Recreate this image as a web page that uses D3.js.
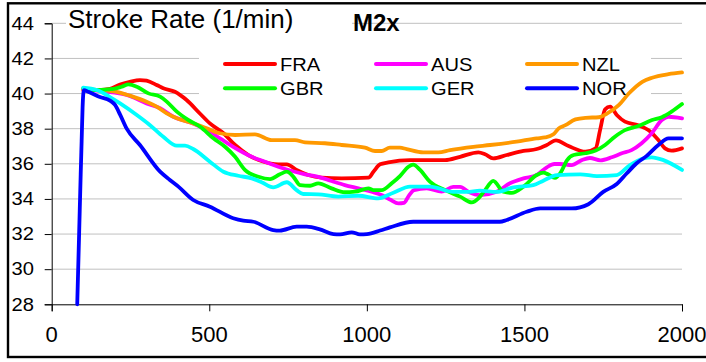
<!DOCTYPE html>
<html>
<head>
<meta charset="utf-8">
<script src="https://cdn.jsdelivr.net/npm/d3@7/dist/d3.min.js"></script>
<style>
  html, body { margin: 0; padding: 0; background: #fff; }
  svg { display: block; }
  text { font-family: "Liberation Sans", Arial, sans-serif; fill: #000; }
</style>
</head>
<body>
<svg id="chart" width="706" height="362"></svg>
<script>
// Stroke rate (1/min) against distance (m), men's double sculls
const xTicks = [0, 500, 1000, 1500, 2000];
const yTicks = [28, 30, 32, 34, 36, 38, 40, 42, 44];

const FRA = [[100,40.2],[150,40.2],[185,40.26],[217,40.52],[248,40.67],[280,40.77],[301,40.73],[333,40.49],[354,40.3],[391,40.1],[428,39.63],[471,38.85],[502,38.3],[545,37.74],[582,37.07],[624,36.5],[666,36.16],[719,35.97],[746,35.97],[777,35.65],[814,35.36],[857,35.21],[920,35.17],[1005,35.21],[1021,35.55],[1042,35.97],[1068,36.08],[1137,36.21],[1248,36.21],[1296,36.4],[1354,36.65],[1375,36.54],[1401,36.31],[1444,36.5],[1497,36.73],[1539,36.84],[1571,37.07],[1600,37.33],[1640,37.01],[1694,36.69],[1726,36.88],[1740,37.92],[1756,39.1],[1772,39.25],[1793,38.78],[1819,38.4],[1861,38.2],[1893,37.92],[1925,37.35],[1946,36.88],[1967,36.75],[2000,36.88]];

const AUS = [[100,40.25],[150,40.15],[200,40.05],[238,39.92],[301,39.44],[344,39.16],[386,38.68],[449,38.3],[492,37.92],[534,37.45],[576,36.97],[635,36.4],[677,36.12],[719,35.83],[762,35.59],[804,35.4],[846,35.26],[888,35.02],[930,34.79],[973,34.6],[1015,34.41],[1050,34.2],[1075,33.95],[1100,33.75],[1118,33.78],[1132,34.15],[1150,34.5],[1190,34.6],[1237,34.41],[1274,34.69],[1296,34.69],[1322,34.41],[1359,34.22],[1412,34.41],[1454,34.89],[1497,35.17],[1539,35.36],[1571,35.8],[1595,35.99],[1613,35.99],[1650,35.93],[1682,36.21],[1708,36.33],[1741,36.2],[1777,36.37],[1809,36.6],[1840,36.78],[1872,37.17],[1904,37.74],[1936,38.49],[1957,38.68],[2000,38.59]];

const NZL = [[100,40.25],[153,40.2],[206,40.1],[248,39.88],[301,39.53],[333,39.25],[365,38.87],[397,38.59],[449,38.3],[492,38.02],[534,37.74],[582,37.64],[645,37.68],[698,37.35],[772,37.35],[804,37.22],[867,37.17],[920,37.07],[994,36.92],[1026,36.73],[1047,36.73],[1073,36.92],[1105,36.92],[1126,36.84],[1179,36.65],[1227,36.65],[1264,36.78],[1338,36.97],[1391,37.07],[1475,37.26],[1539,37.45],[1565,37.5],[1592,37.68],[1608,38.0],[1630,38.2],[1662,38.53],[1694,38.62],[1736,38.65],[1763,38.87],[1800,39.35],[1831,40.0],[1874,40.67],[1905,40.9],[1957,41.1],[2000,41.2]];

const GBR = [[100,40.3],[143,40.2],[196,40.26],[222,40.39],[244,40.52],[270,40.39],[307,40.01],[344,39.82],[365,39.54],[397,38.97],[433,38.5],[471,38.11],[513,37.45],[550,36.97],[582,36.4],[613,35.65],[656,35.26],[693,35.13],[724,35.4],[746,35.55],[767,35.26],[788,34.79],[820,34.75],[846,34.89],[888,34.6],[930,34.38],[962,34.41],[1005,34.6],[1021,34.5],[1047,34.5],[1079,34.89],[1105,35.3],[1132,35.83],[1147,35.95],[1169,35.65],[1200,34.98],[1248,34.5],[1296,34.13],[1333,33.8],[1354,34.03],[1375,34.5],[1401,35.03],[1433,34.41],[1460,34.35],[1497,34.7],[1539,35.36],[1560,35.5],[1575,35.4],[1597,35.2],[1615,35.5],[1635,36.2],[1656,36.5],[1694,36.6],[1726,36.75],[1756,37.07],[1787,37.54],[1819,37.92],[1861,38.15],[1905,38.49],[1936,38.65],[1967,38.97],[2000,39.4]];

const GER = [[100,40.33],[143,40.2],[185,39.8],[217,39.44],[270,38.78],[312,38.2],[354,37.54],[397,37.03],[423,37.03],[449,36.84],[502,36.12],[545,35.55],[592,35.32],[635,35.17],[666,34.95],[703,34.66],[746,34.95],[777,34.5],[798,34.28],[846,34.26],[909,34.13],[973,34.18],[1036,34.03],[1084,34.35],[1137,34.7],[1200,34.7],[1274,34.4],[1317,34.4],[1359,34.47],[1412,34.4],[1465,34.66],[1528,34.79],[1560,35.04],[1603,35.36],[1677,35.4],[1730,35.3],[1793,35.36],[1835,35.93],[1878,36.31],[1904,36.37],[1941,36.21],[2000,35.65]];

const NOR = [[81,28],[87,32],[92,35.4],[95,37.3],[98,39.2],[102,40.2],[116,40.1],[153,39.8],[185,39.6],[201,39.35],[217,38.8],[238,38.0],[280,37.07],[344,35.55],[375,35.08],[402,34.7],[449,33.94],[502,33.56],[576,32.9],[608,32.76],[640,32.7],[703,32.23],[724,32.2],[777,32.42],[809,32.42],[851,32.27],[894,32.0],[915,31.98],[952,32.1],[978,31.98],[1000,32.0],[1042,32.2],[1073,32.38],[1147,32.7],[1422,32.7],[1444,32.8],[1507,33.27],[1550,33.46],[1650,33.46],[1703,33.7],[1750,34.4],[1793,34.85],[1825,35.46],[1856,36.03],[1888,36.45],[1925,37.07],[1957,37.45],[2000,37.45]];

const series = [
  { name: "FRA", color: "#ff0000", values: FRA },
  { name: "AUS", color: "#ff00ff", values: AUS },
  { name: "NZL", color: "#ff9900", values: NZL },
  { name: "GBR", color: "#00ff00", values: GBR },
  { name: "GER", color: "#00ffff", values: GER },
  { name: "NOR", color: "#0000ff", values: NOR }
];

const svg = d3.select("#chart");
const x = d3.scaleLinear().domain([0, 2000]).range([51.7, 682]);
const y = d3.scaleLinear().domain([28, 44]).range([304.3, 23.3]);

// outer frame
svg.append("rect")
  .attr("x", 8).attr("y", 3.3).attr("width", 720).attr("height", 353.7)
  .attr("fill", "none").attr("stroke", "#000").attr("stroke-width", 2.4);

// horizontal gridlines
svg.append("g").selectAll("line")
  .data(yTicks.filter(d => d > 28))
  .join("line")
  .attr("x1", x(0)).attr("x2", x(2000))
  .attr("y1", d => y(d)).attr("y2", d => y(d))
  .attr("stroke", "#c0c0c0").attr("stroke-width", 1);

// white boxes behind title and legend
svg.append("rect").attr("x", 66).attr("y", 8).attr("width", 286).attr("height", 26).attr("fill", "#fff");
svg.append("rect").attr("x", 199).attr("y", 44).attr("width", 452).attr("height", 60).attr("fill", "#fff");

// y axis
const yAxis = svg.append("g").attr("transform", `translate(${x(0)},0)`)
  .call(d3.axisLeft(y).tickValues(yTicks).tickSize(7).tickFormat(""));
yAxis.select(".domain").attr("stroke", "#000");
yAxis.selectAll(".tick line").attr("stroke", "#000");
svg.append("g").selectAll("text")
  .data(yTicks).join("text")
  .attr("transform", d => `translate(34,${y(d) + 6.3}) scale(1.12,1)`)
  .attr("text-anchor", "end")
  .style("font-size", "18px")
  .text(d => d);

// x axis
const xAxis = svg.append("g").attr("transform", `translate(0,${y(28)})`)
  .call(d3.axisBottom(x).tickValues(xTicks).tickSize(7).tickFormat(""));
xAxis.select(".domain").attr("stroke", "#000");
xAxis.selectAll(".tick line").attr("stroke", "#000");
svg.append("g").selectAll("text")
  .data(xTicks).join("text")
  .attr("x", d => x(d)).attr("y", 341.7)
  .attr("text-anchor", "middle")
  .style("font-size", "22px")
  .text(d => d);

// lines
const line = d3.line()
  .x(d => x(d[0])).y(d => y(d[1]))
  .curve(d3.curveMonotoneX);
svg.append("g").selectAll("path")
  .data(series).join("path")
  .attr("d", d => line(d.values))
  .attr("fill", "none")
  .attr("stroke", d => d.color)
  .attr("stroke-width", 3.8)
  .attr("stroke-linejoin", "round")
  .attr("stroke-linecap", "round");

// titles
svg.append("text").attr("transform", "translate(68,28) scale(1.04,1)")
  .style("font-size", "25px").text("Stroke Rate (1/min)");
svg.append("text").attr("x", 353).attr("y", 31)
  .style("font-size", "24px").style("font-weight", "bold").text("M2x");

// legend: three columns, two rows
const legendOrder = ["FRA", "AUS", "NZL", "GBR", "GER", "NOR"];
const lg = svg.append("g").selectAll("g")
  .data(legendOrder.map(n => series.find(s => s.name === n)))
  .join("g")
  .attr("transform", (d, i) => `translate(${225 + (i % 3) * 151},${64 + Math.floor(i / 3) * 24.3})`);
lg.append("line").attr("x1", 0).attr("x2", 50).attr("y1", 0).attr("y2", 0)
  .attr("stroke", d => d.color).attr("stroke-width", 4).attr("stroke-linecap", "round");
lg.append("text").attr("transform", "translate(55,6.5) scale(1.06,1)")
  .style("font-size", "19px").text(d => d.name);
</script>
</body>
</html>
